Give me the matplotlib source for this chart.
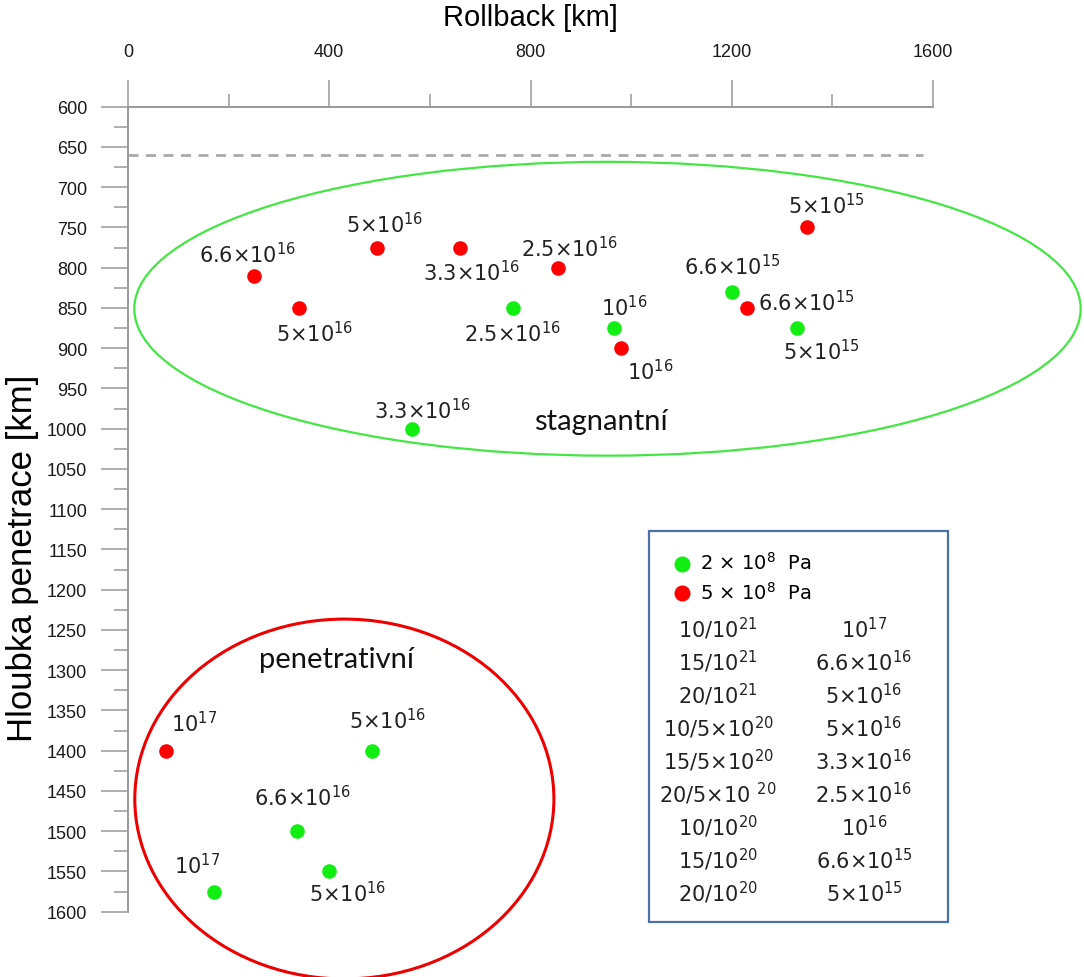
import matplotlib
matplotlib.use('Agg')
import matplotlib.pyplot as plt
from matplotlib.patches import Ellipse, Rectangle
from matplotlib.ticker import MultipleLocator

plt.rcParams['font.family'] = ['Liberation Sans', 'DejaVu Sans']
plt.rcParams['mathtext.fontset'] = 'dejavusans'

# data: rollback [km], penetration depth [km], viscosity label
green_x = [765, 965, 1200, 1330, 565, 485, 335, 400, 170]
green_y = [850, 875, 830, 875, 1000, 1400, 1500, 1550, 1575]
green_lbl = ['2.5×10$^{16}$', '10$^{16}$', '6.6×10$^{15}$', '5×10$^{15}$', '3.3×10$^{16}$',
             '5×10$^{16}$', '6.6×10$^{16}$', '5×10$^{16}$', '10$^{17}$']

red_x = [250, 340, 495, 660, 855, 980, 1230, 1350, 75]
red_y = [810, 850, 775, 775, 800, 900, 850, 750, 1400]
red_lbl = ['6.6×10$^{16}$', '5×10$^{16}$', '5×10$^{16}$', '3.3×10$^{16}$', '2.5×10$^{16}$',
           '10$^{16}$', '6.6×10$^{15}$', '5×10$^{15}$', '10$^{17}$']

# legend table
ratio_lbl = ['10/10$^{21}$', '15/10$^{21}$', '20/10$^{21}$', '10/5×10$^{20}$', '15/5×10$^{20}$',
             '20/5×10 $^{20}$', '10/10$^{20}$', '15/10$^{20}$', '20/10$^{20}$']
visc_lbl = ['10$^{17}$', '6.6×10$^{16}$', '5×10$^{16}$', '5×10$^{16}$', '3.3×10$^{16}$',
            '2.5×10$^{16}$', '10$^{16}$', '6.6×10$^{15}$', '5×10$^{15}$']

# label offsets in pixels (dx right, dy down) from each point to the text centre
green_off = [(0, 25), (11, -21), (1, -26), (24, 23), (10, -18), (16, -30), (6, -34), (18, 22), (-16, -26)]
red_off = [(-6, -22), (16, 25), (8, -23), (12, 25), (11, -20), (29, 23), (60, -6), (19, -22), (28, -27)]

W, H = 1084, 978
GREEN = '#11ee11'
RED = '#ff0000'
ANN_FONT = ['DejaVu Sans']
WORD_FONT = ['Lato', 'DejaVu Sans']


def fpx(x, y):
    return (x / W, 1 - y / H)


fig = plt.figure(figsize=(W / 100, H / 100), dpi=100)
ax = fig.add_axes([128 / W, 1 - 912.7 / H, 805 / W, 805 / H])

ax.set_xlim(0, 1600)
ax.set_ylim(1600, 600)

for s in ['right', 'bottom']:
    ax.spines[s].set_visible(False)
for s in ['left', 'top']:
    ax.spines[s].set_color('#999999')
    ax.spines[s].set_linewidth(1.4)

ax.xaxis.tick_top()
ax.xaxis.set_major_locator(MultipleLocator(400))
ax.xaxis.set_minor_locator(MultipleLocator(200))
ax.yaxis.set_major_locator(MultipleLocator(50))
ax.yaxis.set_minor_locator(MultipleLocator(25))
ax.tick_params(axis='x', which='major', direction='out', length=19.5, width=1.1, color='#999999',
               labelsize=13, labelcolor='#1a1a1a', pad=14)
ax.tick_params(axis='x', which='minor', direction='out', length=9.5, width=1.1, color='#999999')
ax.tick_params(axis='y', which='major', direction='out', length=19.5, width=1.1, color='#999999',
               labelsize=13, labelcolor='#1a1a1a', pad=10)
ax.tick_params(axis='y', which='minor', direction='out', length=10, width=1.1, color='#999999')

ax.set_xlabel('Rollback [km]', fontsize=21, va='center')
ax.xaxis.set_label_position('top')
ax.xaxis.set_label_coords(0.5, 1.1015)
ax.set_ylabel('Hloubka penetrace [km]', fontsize=25, va='center')
ax.yaxis.set_label_coords(-0.1308, 0.4406)

# 660 km boundary
ax.hlines(660, 0, 1580, colors='#aaaaaa', linewidth=2, linestyles=(0, (3.6, 2.7)))

# regime ellipses
ax.add_patch(Ellipse((953, 851), 1881, 365, fill=False, edgecolor='#44e644', linewidth=1.6, clip_on=False))
ax.add_patch(Ellipse((430, 1460), 833, 447, fill=False, edgecolor='#ee0000', linewidth=2.2, clip_on=False))

ax.text(940, 1000, 'stagnantní', fontsize=21, family=WORD_FONT, ha='center', va='baseline', color='#111111')
ax.text(414, 1296, 'penetrativní', fontsize=21, family=WORD_FONT, ha='center', va='baseline', color='#111111')

sg = ax.scatter(green_x, green_y, s=110, color=GREEN, zorder=3, clip_on=False, linewidths=0)
sr = ax.scatter(red_x, red_y, s=110, color=RED, zorder=3, clip_on=False, linewidths=0)

for xs, ys, lbls, offs in [(green_x, green_y, green_lbl, green_off), (red_x, red_y, red_lbl, red_off)]:
    for x, y, t, (dx, dy) in zip(xs, ys, lbls, offs):
        ax.annotate(t, (x, y), xytext=(dx, -(dy + 8)), textcoords='offset pixels',
                    ha='center', va='baseline', fontsize=15, family=ANN_FONT, color='#222222')

# legend box
fig.add_artist(Rectangle(fpx(648.7, 923), 299.3 / W, 390.7 / H, transform=fig.transFigure,
                         fill=False, edgecolor='#4a72a6', linewidth=1.6))
leg = ax.legend([sg, sr], ['2 × 10$^{8}$  Pa', '5 × 10$^{8}$  Pa'], loc='upper left',
                bbox_to_anchor=fpx(672, 552), bbox_transform=fig.transFigure, frameon=False,
                borderpad=0, borderaxespad=0, handlelength=1, handletextpad=0.44, labelspacing=0.4,
                scatterpoints=1, markerscale=1.1,
                prop={'family': ANN_FONT, 'size': 14})

for i, (r, v) in enumerate(zip(ratio_lbl, visc_lbl)):
    yy = 630 + 33 * i + 8
    fig.text(*fpx(718, yy), r, ha='center', va='baseline', fontsize=15, family=ANN_FONT, color='#222222')
    fig.text(*fpx(864, yy), v, ha='center', va='baseline', fontsize=15, family=ANN_FONT, color='#222222')

fig.savefig('out.png', dpi=100)
